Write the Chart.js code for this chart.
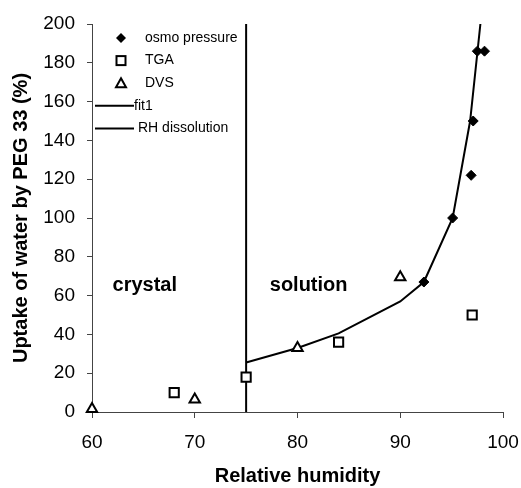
<!DOCTYPE html>
<html>
<head>
<meta charset="utf-8">
<script src="https://cdn.jsdelivr.net/npm/chart.js@4/dist/chart.umd.min.js"></script>
<style>
  html, body { margin: 0; padding: 0; background: #fff; }
  #wrap { width: 521px; height: 488px; }
</style>
</head>
<body>
<div id="wrap"><canvas id="chart" width="521" height="488"></canvas></div>
<script>
// ---- DATA ----
const osmoX = [92.3, 95.1, 96.9, 97.1, 97.5, 98.2];
const osmoY = [67, 100, 122, 150, 186, 186];

const tgaX = [68, 75, 84, 97];
const tgaY = [10, 18, 36, 50];

const dvsX = [60, 70, 80, 90];
const dvsY = [1.5, 6.5, 33, 69.5];

const fitX = [75, 80, 84, 90, 92.3, 95.1, 96.8, 97.8];
const fitY = [25.5, 33, 40.5, 57, 67, 100, 150, 200];

const rhX = [75, 75];
const rhY = [0, 200];

const seriesNames = ["osmo pressure", "TGA", "DVS", "fit1", "RH dissolution"];
const regionLabels = [
  { text: "crystal", x: 62, y: 65 },
  { text: "solution", x: 77.3, y: 65 }
];

const xTicks = [60, 70, 80, 90, 100];
const yTicks = [0, 20, 40, 60, 80, 100, 120, 140, 160, 180, 200];

const FONT = "'Liberation Sans', Arial, sans-serif";

function toPoints(xs, ys) {
  return xs.map((x, i) => ({ x: x, y: ys[i] }));
}

// ---- LEGEND + REGION TEXT ----
const overlayPlugin = {
  id: "overlay",
  afterDraw(chart) {
    const ctx = chart.ctx;
    const xs = chart.scales.x, ys = chart.scales.y;
    ctx.save();

    // region labels
    ctx.fillStyle = "#000";
    ctx.font = "bold 20px " + FONT;
    ctx.textBaseline = "middle";
    ctx.textAlign = "left";
    regionLabels.forEach(l => {
      ctx.fillText(l.text, xs.getPixelForValue(l.x), ys.getPixelForValue(l.y));
    });

    // legend
    ctx.font = "14px " + FONT;
    const rowY = i => 38 + 22.6 * i;
    chart.data.datasets.forEach((ds, i) => {
      const y = rowY(i);
      ctx.strokeStyle = "#000";
      ctx.fillStyle = "#000";
      if (ds.showLine) {
        ctx.lineWidth = 2;
        ctx.beginPath();
        ctx.moveTo(95, y);
        ctx.lineTo(134, y);
        ctx.stroke();
        ctx.fillText(ds.label, i === 3 ? 134 : 138, y);
        return;
      }
      const cx = 121;
      ctx.lineWidth = 2;
      if (ds.pointStyle === "rectRot") {
        ctx.beginPath();
        ctx.moveTo(cx, y - 5);
        ctx.lineTo(cx + 5, y);
        ctx.lineTo(cx, y + 5);
        ctx.lineTo(cx - 5, y);
        ctx.closePath();
        ctx.fill();
      } else if (ds.pointStyle === "rect") {
        ctx.fillStyle = "#fff";
        ctx.fillRect(cx - 4.5, y - 4.5, 9, 9);
        ctx.strokeRect(cx - 4.5, y - 4.5, 9, 9);
      } else {
        ctx.fillStyle = "#fff";
        ctx.beginPath();
        ctx.moveTo(cx, y - 5);
        ctx.lineTo(cx + 5, y + 4);
        ctx.lineTo(cx - 5, y + 4);
        ctx.closePath();
        ctx.fill();
        ctx.stroke();
      }
      ctx.fillStyle = "#000";
      ctx.fillText(ds.label, 145, y);
    });
    ctx.restore();
  }
};

// ---- CHART ----
new Chart(document.getElementById("chart"), {
  type: "scatter",
  data: {
    datasets: [
      {
        label: seriesNames[0],
        data: toPoints(osmoX, osmoY),
        pointStyle: "rectRot",
        pointRadius: 5,
        backgroundColor: "#000",
        borderColor: "#000",
        borderWidth: 1,
        clip: false
      },
      {
        label: seriesNames[1],
        data: toPoints(tgaX, tgaY),
        pointStyle: "rect",
        pointRadius: 6.5,
        backgroundColor: "#fff",
        borderColor: "#000",
        borderWidth: 2,
        clip: false
      },
      {
        label: seriesNames[2],
        data: toPoints(dvsX, dvsY),
        pointStyle: "triangle",
        pointRadius: 6,
        backgroundColor: "#fff",
        borderColor: "#000",
        borderWidth: 2,
        clip: false
      },
      {
        label: seriesNames[3],
        data: toPoints(fitX, fitY),
        showLine: true,
        pointRadius: 0,
        borderColor: "#000",
        borderWidth: 2,
        tension: 0
      },
      {
        label: seriesNames[4],
        data: toPoints(rhX, rhY),
        showLine: true,
        pointRadius: 0,
        borderColor: "#000",
        borderWidth: 2
      }
    ]
  },
  options: {
    responsive: false,
    animation: false,
    layout: { padding: { top: 24, right: 18, left: 0, bottom: 0 } },
    plugins: {
      legend: { display: false },
      tooltip: { enabled: false }
    },
    scales: {
      x: {
        type: "linear",
        min: 60,
        max: 100,
        afterFit: s => { s.height = 76; s.paddingLeft = 0; s.paddingRight = 0; },
        afterBuildTicks: s => { s.ticks = xTicks.map(v => ({ value: v })); },
        grid: { drawOnChartArea: false, drawTicks: true, tickLength: 6, color: "#444" },
        border: { color: "#444", width: 1 },
        ticks: { color: "#000", padding: 13, font: { family: FONT, size: 19 } },
        title: {
          display: true,
          text: "Relative humidity",
          color: "#000",
          padding: { top: 0, bottom: 0 },
          font: { family: FONT, size: 20, weight: "bold" }
        }
      },
      y: {
        type: "linear",
        min: 0,
        max: 200,
        afterFit: s => { s.width = 92; s.paddingTop = 0; s.paddingBottom = 0; },
        afterBuildTicks: s => { s.ticks = yTicks.map(v => ({ value: v })); },
        grid: { drawOnChartArea: false, drawTicks: true, tickLength: 5, color: "#444" },
        border: { color: "#444", width: 1 },
        ticks: { color: "#000", padding: 12, font: { family: FONT, size: 19 } },
        title: {
          display: true,
          text: "Uptake of water by PEG 33 (%)",
          color: "#000",
          padding: { top: 9, bottom: 0 },
          font: { family: FONT, size: 20, weight: "bold" }
        }
      }
    }
  },
  plugins: [overlayPlugin]
});
</script>
</body>
</html>
